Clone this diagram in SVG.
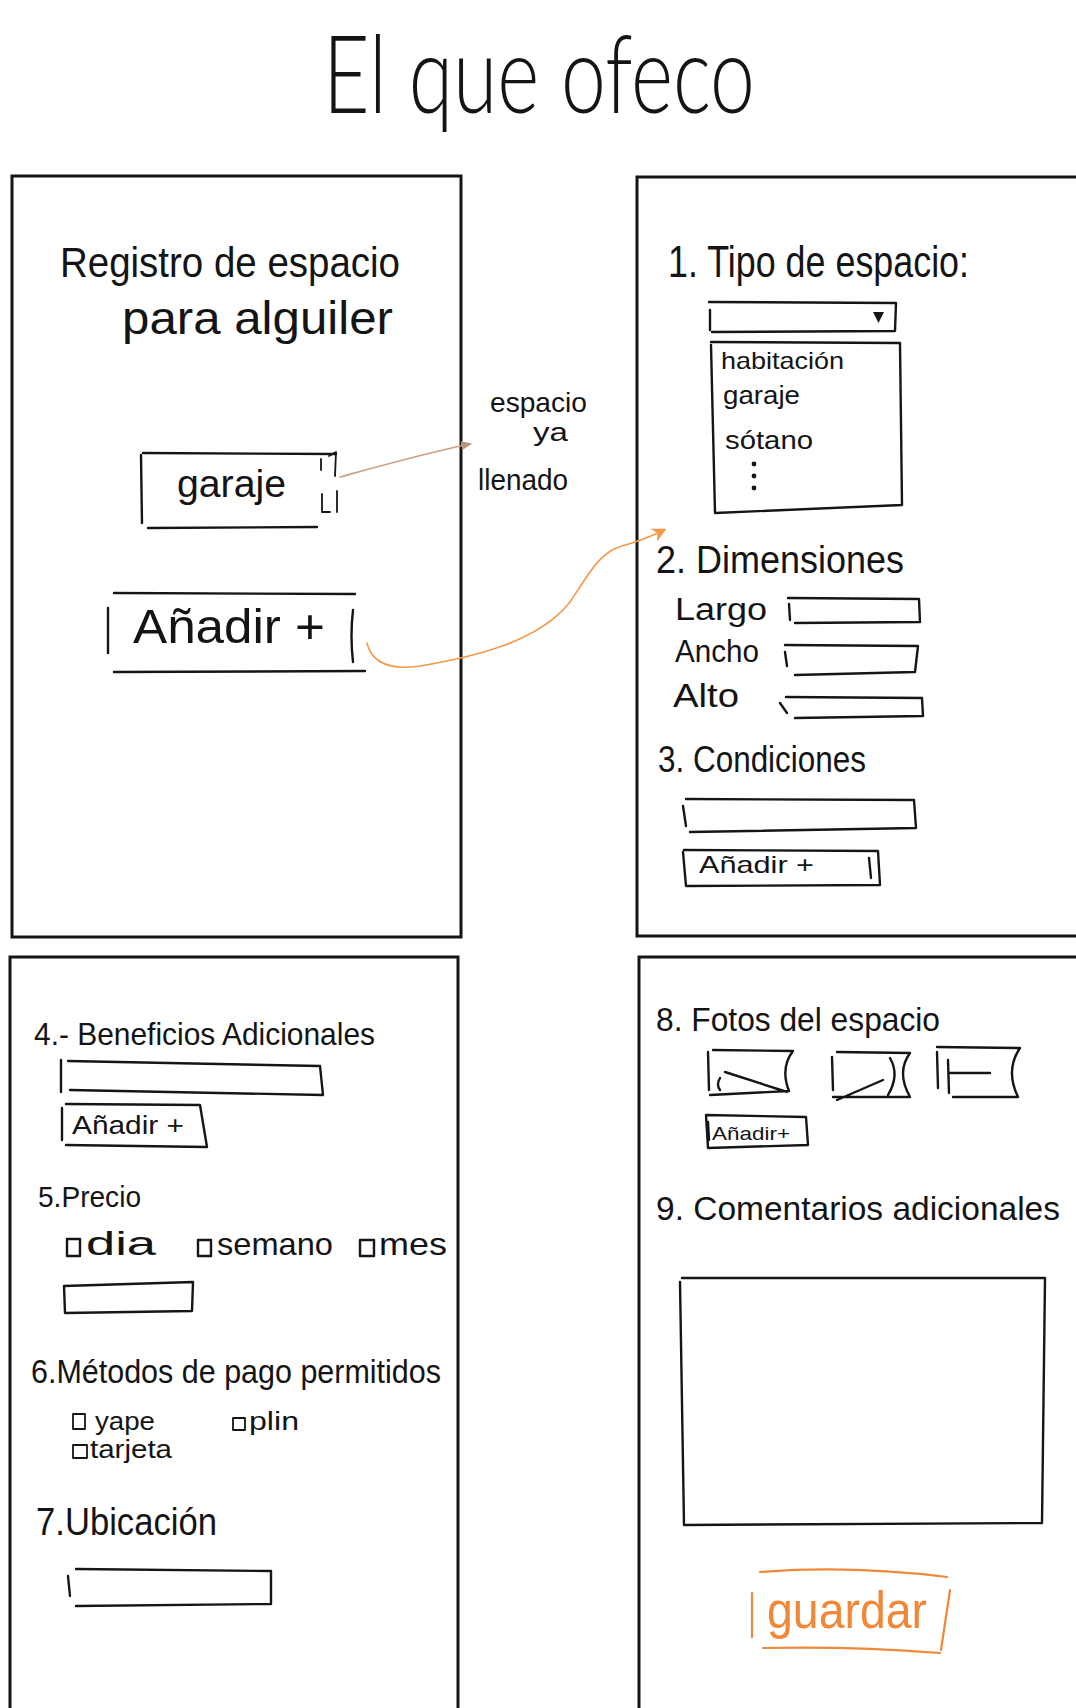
<svg xmlns="http://www.w3.org/2000/svg" width="1076" height="1708" viewBox="0 0 1076 1708">
  <defs>
    <style>
      .t { font-family: "Liberation Sans", Arial, sans-serif; fill: #141414; }
      .title { font-family: "Lato", "Liberation Sans", Arial, sans-serif; font-weight: 300; fill: #141414; }
      .panel { fill: none; stroke: #151515; stroke-width: 3; }
      .ln { fill: none; stroke: #151515; stroke-width: 2.4; stroke-linecap: round; stroke-linejoin: round; }
      .thin { fill: none; stroke: #151515; stroke-width: 1.8; stroke-linecap: round; stroke-linejoin: round; }
      .or { fill: none; stroke: #f0883a; stroke-width: 2.2; stroke-linecap: round; stroke-linejoin: round; }
      .ortext { font-family: "Liberation Sans", Arial, sans-serif; fill: #f0883a; }
      .conn { fill: none; stroke-width: 1.6; stroke-linecap: round; }
    </style>
    <marker id="headSmall" viewBox="0 0 10 10" refX="8" refY="5" markerWidth="7" markerHeight="7" orient="auto">
      <path d="M0,1 L10,5 L0,9 Z" fill="#b9957a"/>
    </marker>
    <marker id="headOrange" viewBox="0 0 10 10" refX="8" refY="5" markerWidth="9" markerHeight="9" orient="auto">
      <path d="M0,0 L10,5 L0,10 L3,5 Z" fill="#f39a4a"/>
    </marker>
  </defs>

  <rect width="1076" height="1708" fill="#ffffff"/>

  <!-- heading -->
  <g id="title">
    <text class="title" x="323" y="113" font-size="108" textLength="432" lengthAdjust="spacingAndGlyphs">El que ofeco</text>
  </g>

  <!-- screen 1: list of registered spaces -->
  <g id="screen-registro">
    <rect class="panel" x="12" y="176" width="449" height="761"/>
    <text class="t" x="60" y="277" font-size="42" textLength="340" lengthAdjust="spacingAndGlyphs">Registro de espacio</text>
    <text class="t" x="122" y="334" font-size="46" textLength="271" lengthAdjust="spacingAndGlyphs">para alguiler</text>
  </g>

  <g id="item-garaje">
    <path class="ln" d="M143,453 L336,454 M141,455 L142,523 M148,528 L317,527"/>
    <text class="t" x="177" y="497" font-size="38" textLength="109" lengthAdjust="spacingAndGlyphs">garaje</text>
    <!-- scroll handle -->
    <path class="thin" d="M321,459 L321,470 M329,456 L336,452 L335,476 M322,494 L322,512 L330,512 M337,491 L337,512"/>
  </g>

  <g id="btn-anadir-espacio">
    <path class="ln" d="M114,593 L355,594 M114,672 L365,671 M108,608 L108,653 M353,610 Q350,636 353,662"/>
    <text class="t" x="133" y="643" font-size="48" textLength="192" lengthAdjust="spacingAndGlyphs">Añadir +</text>
  </g>

  <g id="note-llenado">
    <text class="t" x="490" y="412" font-size="28" textLength="97" lengthAdjust="spacingAndGlyphs">espacio</text>
    <text class="t" x="533" y="441" font-size="26" textLength="35" lengthAdjust="spacingAndGlyphs">ya</text>
    <text class="t" x="478" y="490" font-size="30" textLength="90" lengthAdjust="spacingAndGlyphs">llenado</text>
  </g>

  <!-- screen 2: space type, dimensions, conditions -->
  <g id="screen-datos">
    <rect class="panel" x="637" y="177" width="445" height="759"/>
    <text class="t" x="668" y="277" font-size="44" textLength="301" lengthAdjust="spacingAndGlyphs">1. Tipo de espacio:</text>
  </g>

  <g id="select-tipo">
    <path class="ln" d="M709,302 L896,303 L895,331 L712,332 M710,310 L710,330"/>
    <path d="M873,312 L884,312 L878.5,323 Z" fill="#151515"/>
    <path class="ln" d="M711,342 L900,343 L902,505 L715,513 L711,345"/>
    <text class="t" x="721" y="369" font-size="24" textLength="123" lengthAdjust="spacingAndGlyphs">habitación</text>
    <text class="t" x="723" y="404" font-size="26" textLength="77" lengthAdjust="spacingAndGlyphs">garaje</text>
    <text class="t" x="725" y="449" font-size="26" textLength="88" lengthAdjust="spacingAndGlyphs">sótano</text>
    <circle cx="754" cy="464" r="2.4" fill="#151515"/>
    <circle cx="754" cy="476" r="2.4" fill="#151515"/>
    <circle cx="754" cy="488" r="2.4" fill="#151515"/>
  </g>

  <g id="dimensiones">
    <text class="t" x="656" y="573" font-size="38" textLength="248" lengthAdjust="spacingAndGlyphs">2. Dimensiones</text>
    <text class="t" x="675" y="620" font-size="31" textLength="92" lengthAdjust="spacingAndGlyphs">Largo</text>
    <path class="ln" d="M788,598 L919,599 L920,622 L795,623 M789,604 L790,620"/>
    <text class="t" x="675" y="662" font-size="31" textLength="84" lengthAdjust="spacingAndGlyphs">Ancho</text>
    <path class="ln" d="M785,645 L918,646 L915,672 L795,675 M785,652 L787,666"/>
    <text class="t" x="673" y="707" font-size="33" textLength="66" lengthAdjust="spacingAndGlyphs">Alto</text>
    <path class="ln" d="M786,697 L922,698 L923,716 L795,718 M780,703 L787,713"/>
  </g>

  <g id="condiciones">
    <text class="t" x="658" y="772" font-size="36" textLength="208" lengthAdjust="spacingAndGlyphs">3. Condiciones</text>
    <path class="ln" d="M686,799 L914,800 L916,828 L690,832 M683,806 L686,826"/>
    <path class="ln" d="M684,850 L878,851 L880,885 L686,886 L683,852 M869,858 L871,878"/>
    <text class="t" x="699" y="873" font-size="24" textLength="115" lengthAdjust="spacingAndGlyphs">Añadir +</text>
  </g>

  <!-- screen 3: extras, price, payment, location -->
  <g id="screen-extras">
    <rect class="panel" x="10" y="957" width="448" height="760"/>
  </g>

  <g id="beneficios">
    <text class="t" x="34" y="1045" font-size="32" textLength="341" lengthAdjust="spacingAndGlyphs">4.- Beneficios Adicionales</text>
    <path class="ln" d="M68,1061 L320,1066 L323,1095 L70,1090 M61,1060 L61,1092"/>
    <path class="ln" d="M66,1104 L200,1105 L207,1147 L66,1145 M62,1108 L62,1140"/>
    <text class="t" x="72" y="1134" font-size="26" textLength="112" lengthAdjust="spacingAndGlyphs">Añadir +</text>
  </g>

  <g id="precio">
    <text class="t" x="38" y="1207" font-size="30" textLength="103" lengthAdjust="spacingAndGlyphs">5.Precio</text>
    <rect class="ln" x="67" y="1239" width="13" height="17"/>
    <text class="t" x="86" y="1255" font-size="34" textLength="70" lengthAdjust="spacingAndGlyphs">dia</text>
    <rect class="ln" x="198" y="1240" width="13" height="16"/>
    <text class="t" x="217" y="1255" font-size="32" textLength="116" lengthAdjust="spacingAndGlyphs">semano</text>
    <rect class="ln" x="360" y="1240" width="14" height="16"/>
    <text class="t" x="379" y="1255" font-size="32" textLength="68" lengthAdjust="spacingAndGlyphs">mes</text>
    <path class="ln" d="M64,1286 L193,1282 L192,1311 L65,1313 Z"/>
  </g>

  <g id="metodos-pago">
    <text class="t" x="31" y="1383" font-size="34" textLength="410" lengthAdjust="spacingAndGlyphs">6.Métodos de pago permitidos</text>
    <rect class="thin" x="73" y="1414" width="12" height="15"/>
    <text class="t" x="95" y="1430" font-size="25" textLength="60" lengthAdjust="spacingAndGlyphs">yape</text>
    <rect class="thin" x="233" y="1418" width="12" height="12"/>
    <text class="t" x="249" y="1430" font-size="26" textLength="50" lengthAdjust="spacingAndGlyphs">plin</text>
    <rect class="thin" x="73" y="1445" width="14" height="13"/>
    <text class="t" x="90" y="1458" font-size="26" textLength="82" lengthAdjust="spacingAndGlyphs">tarjeta</text>
  </g>

  <g id="ubicacion">
    <text class="t" x="36" y="1535" font-size="38" textLength="181" lengthAdjust="spacingAndGlyphs">7.Ubicación</text>
    <path class="ln" d="M76,1569 L271,1571 L271,1604 L76,1606 M68,1576 L70,1596"/>
  </g>

  <!-- screen 4: photos, comments, save -->
  <g id="screen-fotos">
    <rect class="panel" x="639" y="957" width="445" height="760"/>
  </g>

  <g id="fotos">
    <text class="t" x="656" y="1031" font-size="34" textLength="284" lengthAdjust="spacingAndGlyphs">8. Fotos del espacio</text>
    <!-- thumbnail 1 -->
    <path class="ln" d="M713,1050 L793,1051 Q780,1068 789,1091 L710,1095 M708,1052 L709,1090 M720,1078 Q716,1085 720,1090 M725,1072 L787,1092"/>
    <!-- thumbnail 2 -->
    <path class="ln" d="M837,1052 L910,1053 Q896,1072 910,1097 L833,1097 M832,1057 L833,1090 M837,1100 L883,1080 M890,1058 Q900,1075 888,1095"/>
    <!-- thumbnail 3 -->
    <path class="ln" d="M937,1047 L1020,1048 Q1005,1070 1018,1097 L953,1097 M937,1052 L938,1088 M948,1060 L949,1093 M950,1073 L990,1073"/>
    <path class="ln" d="M706,1115 L806,1117 L808,1145 L708,1148 Z M708,1122 L709,1140"/>
    <text class="t" x="712" y="1140" font-size="19" textLength="78" lengthAdjust="spacingAndGlyphs">Añadir+</text>
  </g>

  <g id="comentarios">
    <text class="t" x="656" y="1220" font-size="34" textLength="404" lengthAdjust="spacingAndGlyphs">9. Comentarios adicionales</text>
    <path class="ln" d="M682,1278 L1045,1278 L1042,1523 L684,1525 L680,1282"/>
  </g>

  <g id="btn-guardar">
    <path class="or" d="M760,1572 Q850,1565 947,1577 M763,1648 Q850,1646 940,1653 M752,1593 L752,1637 M950,1590 L941,1650"/>
    <text class="ortext" x="767" y="1628" font-size="52" textLength="160" lengthAdjust="spacingAndGlyphs">guardar</text>
  </g>

  <!-- flow arrows -->
  <g id="connectors">
    <path class="conn" stroke="#c9a080" d="M340,477 C380,466 430,452 470,444" marker-end="url(#headSmall)"/>
    <path class="conn" stroke="#f39a4a" d="M367,643 C372,664 392,670 420,666 C480,656 540,640 570,602 C590,572 600,552 622,546 C640,541 652,536 664,530" marker-end="url(#headOrange)"/>
  </g>
</svg>
